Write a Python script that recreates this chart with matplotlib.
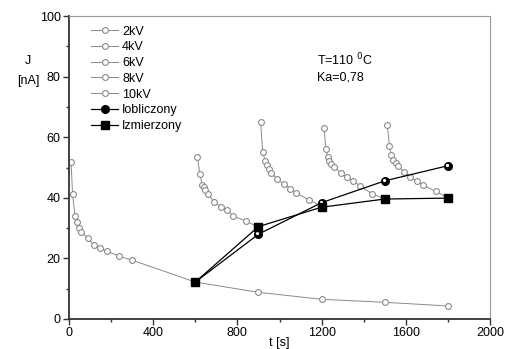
import numpy as np
import matplotlib.pyplot as plt
import matplotlib.transforms as mtransforms

plt.rcParams['font.family'] = ['Liberation Sans', 'DejaVu Sans']

# 2kV
t2 = [10, 17, 29, 40, 49, 59, 90, 119, 149, 181, 238, 300, 600, 900, 1200, 1500, 1800]
j2 = [51.7, 41.2, 33.9, 31.9, 30.0, 28.8, 26.6, 24.4, 23.3, 22.4, 20.7, 19.4, 12.2, 8.8, 6.5, 5.5, 4.3]
# 4kV
t4 = [610, 622, 633, 641, 648, 659, 690, 720, 750, 780, 841, 900]
j4 = [53.4, 47.8, 44.2, 43.5, 42.6, 41.3, 38.7, 37.1, 36.0, 34.0, 32.3, 30.3]
# 6kV
t6 = [910, 920, 933, 942, 950, 960, 990, 1020, 1050, 1080, 1140, 1200]
j6 = [65.0, 55.0, 52.0, 50.7, 49.6, 48.3, 46.1, 44.6, 43.0, 41.6, 39.3, 37.2]
# 8kV
t8 = [1211, 1221, 1229, 1236, 1245, 1259, 1292, 1321, 1351, 1382, 1441, 1500]
j8 = [63.2, 56.0, 53.6, 52.3, 51.2, 50.2, 48.1, 46.8, 45.6, 43.9, 41.3, 39.6]
# 10kV
t10 = [1512, 1522, 1531, 1541, 1553, 1562, 1591, 1621, 1652, 1682, 1742, 1800]
j10 = [63.9, 57.1, 54.1, 52.5, 51.4, 50.6, 48.6, 46.8, 45.6, 44.2, 42.1, 40.0]

t_calc = [600, 900, 1200, 1500, 1800]
j_calc = [12.2, 28.0, 38.4, 45.6, 50.6]
j_meas = [12.2, 30.5, 36.9, 39.6, 39.9]

labels = ['2kV', '4kV', '6kV', '8kV', '10kV']

fig = plt.figure(figsize=(5.11, 3.49), dpi=100)
ax = fig.add_axes([0.135, 0.086, 0.824, 0.868])

grey = '#8a8a8a'
for t, j, lab in zip([t2, t4, t6, t8, t10], [j2, j4, j6, j8, j10], labels):
    ax.plot(t, j, '-o', color=grey, lw=0.7, ms=4.2, mfc='white', mec=grey, mew=0.8, label=lab)

ax.plot(t_calc, j_calc, '-o', color='black', lw=0.9, ms=5.5, mfc='black', mec='black', label='Iobliczony')
# small highlight on the "sphere" markers
shift = mtransforms.ScaledTranslation(-0.8 / 72, 0.8 / 72, fig.dpi_scale_trans)
ax.plot(t_calc, j_calc, 'o', color='white', ms=1.3, transform=ax.transData + shift)
ax.plot(t_calc, j_meas, '-s', color='black', lw=0.9, ms=5.2, mfc='black', mec='black', label='Izmierzony')

ax.set_xlim(0, 2000)
ax.set_ylim(0, 100)
ax.set_xticks(np.arange(0, 2001, 400))
ax.set_xticks(np.arange(0, 2001, 200), minor=True)
ax.set_yticks(np.arange(0, 101, 20))
ax.set_yticks(np.arange(0, 101, 10), minor=True)
ax.tick_params(labelsize=9, direction='out', length=4, width=1, color='#333333', pad=2)
ax.tick_params(which='minor', direction='out', length=2.5, width=1, color='#333333')
for s in ['left', 'bottom']:
    ax.spines[s].set_linewidth(1.3)
    ax.spines[s].set_color('#333333')
for s in ['top', 'right']:
    ax.spines[s].set_linewidth(0.8)
    ax.spines[s].set_color('#999999')

fig.text(28 / 511, 1 - 71 / 349, 'J\n[nA]', fontsize=9, ha='center', va='center', linespacing=1.9)
ax.set_xlabel('t [s]', fontsize=9, labelpad=-2)
ax.text(0.59, 0.83, 'T=110 $^0$C\nKa=0,78', transform=ax.transAxes, fontsize=9, ha='left', va='center', linespacing=1.3)

ax.legend(loc='upper left', frameon=False, fontsize=9, handlelength=2.2, handletextpad=0.3,
          labelspacing=0.3, borderaxespad=0.0, bbox_to_anchor=(0.04, 0.985))

fig.savefig('out.png', dpi=100)
